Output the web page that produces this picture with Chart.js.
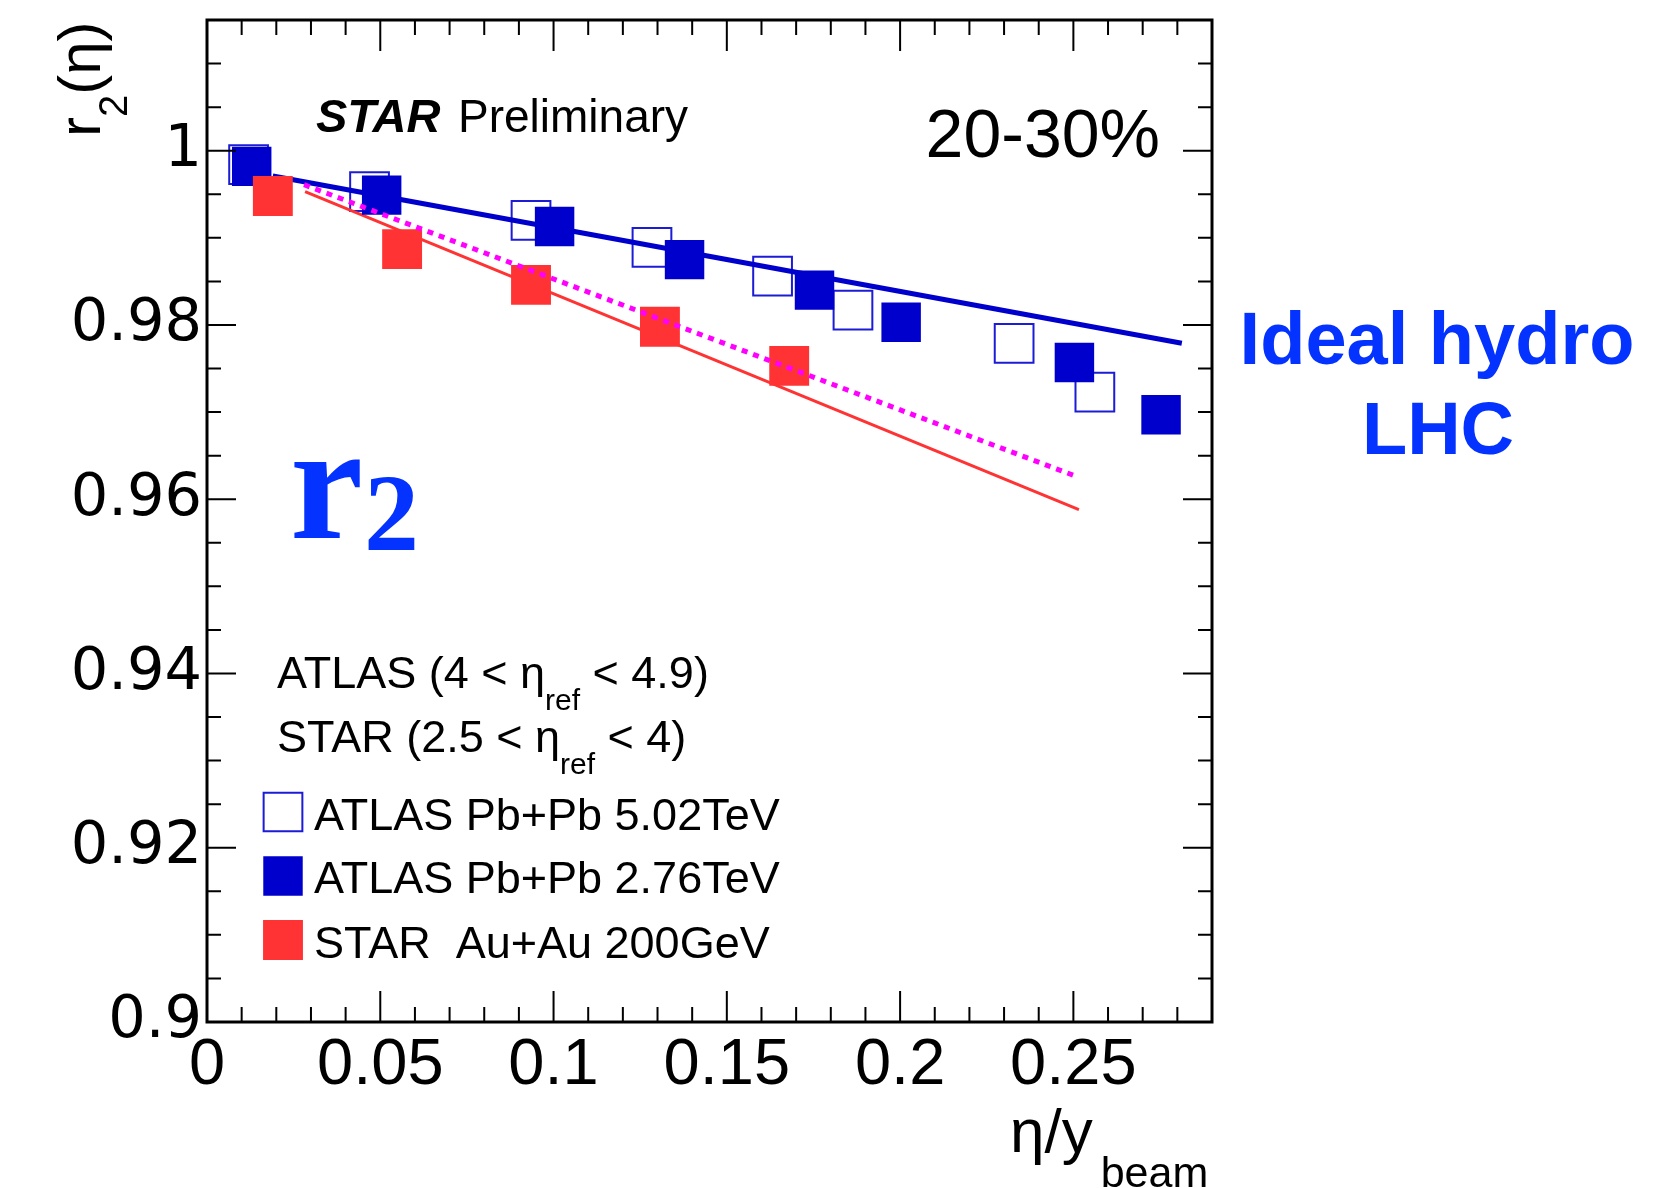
<!DOCTYPE html>
<html>
<head>
<meta charset="utf-8">
<title>r2(eta) vs eta/y_beam</title>
<script src="https://cdn.jsdelivr.net/npm/chart.js@4.4.1/dist/chart.umd.min.js"></script>
<style>
  html, body { margin: 0; padding: 0; background: #fff; }
  canvas { display: block; }
</style>
</head>
<body>
<canvas id="r2chart" width="1659" height="1188"></canvas>
<script>
// values, 20-30% centrality
const atlas502X = [0.0120, 0.0469, 0.0935, 0.1284, 0.1632, 0.1864, 0.2329, 0.2562];
const atlas502Y = [0.9984, 0.9953, 0.9920, 0.9889, 0.9856, 0.9817, 0.9779, 0.9723];
const atlas276X = [0.0129, 0.0504, 0.1003, 0.1378, 0.1753, 0.2003, 0.2503, 0.2753];
const atlas276Y = [0.9982, 0.9949, 0.9913, 0.9875, 0.9840, 0.9803, 0.9757, 0.9697];
const starX = [0.0190, 0.0563, 0.0935, 0.1307, 0.1680];
const starY = [0.9948, 0.9887, 0.9846, 0.9798, 0.9753];

// lines (end points)
const hydroLhcX = [0.0190, 0.2813];
const hydroLhcY = [0.9971, 0.9779];
const starLineX = [0.0283, 0.2516];
const starLineY = [0.9953, 0.9588];
const dottedX = [0.0280, 0.2503];
const dottedY = [0.9961, 0.9627];

// axis ticks
const xTickValues = [0, 0.05, 0.1, 0.15, 0.2, 0.25];
const xTickLabels = ['0', '0.05', '0.1', '0.15', '0.2', '0.25'];
const yTickValues = [0.9, 0.92, 0.94, 0.96, 0.98, 1.0];
const yTickLabels = ['0.9', '0.92', '0.94', '0.96', '0.98', '1'];

const SANS = '"Liberation Sans", Arial, Helvetica, sans-serif';
const WIDE = '"DejaVu Sans", "Liberation Sans", sans-serif';
const SERIF = '"Liberation Serif", "Times New Roman", serif';
const BLUE = '#0000cc';
const OPEN_BLUE = '#1c1cd6';
const RED = '#ff3333';
const TEXT_BLUE = '#0433ff';

function pts(xs, ys) {
    return xs.map((v, i) => ({ x: v, y: ys[i] }));
}

function richText(ctx, x, y, parts) {
    for (const p of parts) {
        ctx.font = p.font;
        ctx.fillText(p.t, x, y + (p.dy || 0));
        x += ctx.measureText(p.t).width + (p.gap || 0);
    }
    return x;
}

const decorations = {
    id: 'decorations',
    afterDraw(chart) {
        const { ctx, chartArea: a, scales: { x, y } } = chart;
        ctx.save();

        // ticks inside the frame, all four sides
        ctx.strokeStyle = '#000';
        ctx.lineWidth = 2;
        ctx.beginPath();
        for (let i = 0; i <= 29; i++) {
            const px = x.getPixelForValue(i * 0.01);
            const len = i % 5 === 0 ? 31 : 15;
            ctx.moveTo(px, a.bottom); ctx.lineTo(px, a.bottom - len);
            ctx.moveTo(px, a.top); ctx.lineTo(px, a.top + len);
        }
        for (let i = 0; i <= 23; i++) {
            const py = y.getPixelForValue(0.9 + i * 0.005);
            const len = i % 4 === 0 ? 29 : 14;
            ctx.moveTo(a.left, py); ctx.lineTo(a.left + len, py);
            ctx.moveTo(a.right, py); ctx.lineTo(a.right - len, py);
        }
        ctx.stroke();

        ctx.lineWidth = 3;
        ctx.strokeRect(a.left, a.top, a.right - a.left, a.bottom - a.top);

        ctx.fillStyle = '#000';
        ctx.textBaseline = 'alphabetic';
        ctx.textAlign = 'left';

        // STAR Preliminary
        ctx.font = 'italic bold 47px ' + SANS;
        ctx.fillText('STAR', 316, 132);
        ctx.font = '46px ' + SANS;
        ctx.fillText('Preliminary', 458, 132);

        // centrality
        ctx.textAlign = 'right';
        ctx.font = '68px ' + SANS;
        ctx.fillText('20-30%', 1160, 157);
        ctx.textAlign = 'left';

        // big r2
        ctx.fillStyle = TEXT_BLUE;
        ctx.font = 'bold 165px ' + SERIF;
        ctx.fillText('r', 290, 538);
        ctx.font = 'bold 110px ' + SERIF;
        ctx.fillText('2', 364, 550);

        // Ideal hydro LHC
        ctx.textAlign = 'center';
        ctx.font = 'bold 74px ' + SANS;
        ctx.fillText('Ideal hydro', 1437, 364);
        ctx.fillText('LHC', 1438, 454);
        ctx.textAlign = 'left';

        // legend
        ctx.fillStyle = '#000';
        const big = '45px ' + SANS, small = '30px ' + SANS;
        richText(ctx, 277, 688, [
            { t: 'ATLAS (4 < η', font: big },
            { t: 'ref', font: small, dy: 22 },
            { t: ' < 4.9)', font: big }
        ]);
        richText(ctx, 277, 752, [
            { t: 'STAR (2.5 < η', font: big },
            { t: 'ref', font: small, dy: 22 },
            { t: ' < 4)', font: big }
        ]);
        const entries = [
            { ds: 0, text: 'ATLAS Pb+Pb 5.02TeV', cy: 812, base: 830 },
            { ds: 1, text: 'ATLAS Pb+Pb 2.76TeV', cy: 876, base: 893 },
            { ds: 2, text: 'STAR  Au+Au 200GeV', cy: 940, base: 958 }
        ];
        for (const e of entries) {
            const d = chart.data.datasets[e.ds];
            ctx.fillStyle = d.pointBackgroundColor;
            ctx.strokeStyle = d.pointBorderColor;
            ctx.lineWidth = d.pointBorderWidth;
            Chart.helpers.drawPoint(ctx, {
                pointStyle: 'rect',
                radius: d.pointRadius,
                borderWidth: d.pointBorderWidth,
                rotation: 0
            }, 283, e.cy);
            ctx.fillStyle = '#000';
            ctx.font = big;
            ctx.fillText(e.text, 314, e.base);
        }

        // axis titles
        ctx.save();
        ctx.translate(100, 137);
        ctx.rotate(-Math.PI / 2);
        richText(ctx, 0, 0, [
            { t: 'r', font: '60px ' + SANS },
            { t: '2', font: '40px ' + SANS, dy: 27 },
            { t: '(η)', font: '60px ' + SANS }
        ]);
        ctx.restore();

        richText(ctx, 1010, 1152, [
            { t: 'η/y', font: '62px ' + SANS, gap: 8 },
            { t: 'beam', font: '43px ' + SANS, dy: 35 }
        ]);

        ctx.restore();
    }
};

new Chart(document.getElementById('r2chart'), {
    type: 'scatter',
    data: {
        datasets: [
            {
                label: 'ATLAS Pb+Pb 5.02TeV',
                data: pts(atlas502X, atlas502Y),
                pointStyle: 'rect',
                pointRadius: 27.4,
                pointBackgroundColor: 'rgba(0,0,0,0)',
                pointBorderColor: OPEN_BLUE,
                pointBorderWidth: 2,
                order: 5
            },
            {
                label: 'ATLAS Pb+Pb 2.76TeV',
                data: pts(atlas276X, atlas276Y),
                pointStyle: 'rect',
                pointRadius: 27.9,
                pointBackgroundColor: BLUE,
                pointBorderColor: BLUE,
                pointBorderWidth: 0,
                order: 2
            },
            {
                label: 'STAR  Au+Au 200GeV',
                data: pts(starX, starY),
                pointStyle: 'rect',
                pointRadius: 28.2,
                pointBackgroundColor: RED,
                pointBorderColor: RED,
                pointBorderWidth: 0,
                order: 1
            },
            {
                label: 'Ideal hydro LHC',
                data: pts(hydroLhcX, hydroLhcY),
                showLine: true,
                pointRadius: 0,
                borderColor: BLUE,
                borderWidth: 5,
                order: 3
            },
            {
                label: 'STAR line',
                data: pts(starLineX, starLineY),
                showLine: true,
                pointRadius: 0,
                borderColor: RED,
                borderWidth: 3,
                order: 4
            },
            {
                label: 'dotted',
                data: pts(dottedX, dottedY),
                showLine: true,
                pointRadius: 0,
                borderColor: '#ff00ff',
                borderWidth: 5,
                borderDash: [6, 6],
                order: 0
            }
        ]
    },
    options: {
        responsive: false,
        animation: false,
        events: [],
        layout: { autoPadding: false, padding: { left: 0, top: 20, right: 447, bottom: 0 } },
        plugins: {
            legend: { display: false },
            tooltip: { enabled: false }
        },
        scales: {
            x: {
                type: 'linear',
                position: 'bottom',
                min: 0,
                max: 0.29,
                grid: { display: false, drawTicks: false },
                border: { display: false },
                afterBuildTicks: (s) => { s.ticks = xTickValues.map(v => ({ value: v })); },
                afterFit: (s) => { s.height = 166; s.paddingLeft = 0; s.paddingRight = 0; },
                ticks: {
                    color: '#000',
                    font: { family: SANS, size: 65 },
                    padding: 5,
                    maxRotation: 0,
                    autoSkip: false,
                    callback: (v, i) => xTickLabels[i]
                }
            },
            y: {
                type: 'linear',
                position: 'left',
                min: 0.9,
                max: 1.015,
                grid: { display: false, drawTicks: false },
                border: { display: false },
                afterBuildTicks: (s) => { s.ticks = yTickValues.map(v => ({ value: v })); },
                afterFit: (s) => { s.width = 207; s.paddingTop = 0; s.paddingBottom = 0; },
                ticks: {
                    color: '#000',
                    font: { family: WIDE, size: 59 },
                    padding: 5,
                    autoSkip: false,
                    callback: (v, i) => yTickLabels[i]
                }
            }
        }
    },
    plugins: [decorations]
});
</script>
</body>
</html>
